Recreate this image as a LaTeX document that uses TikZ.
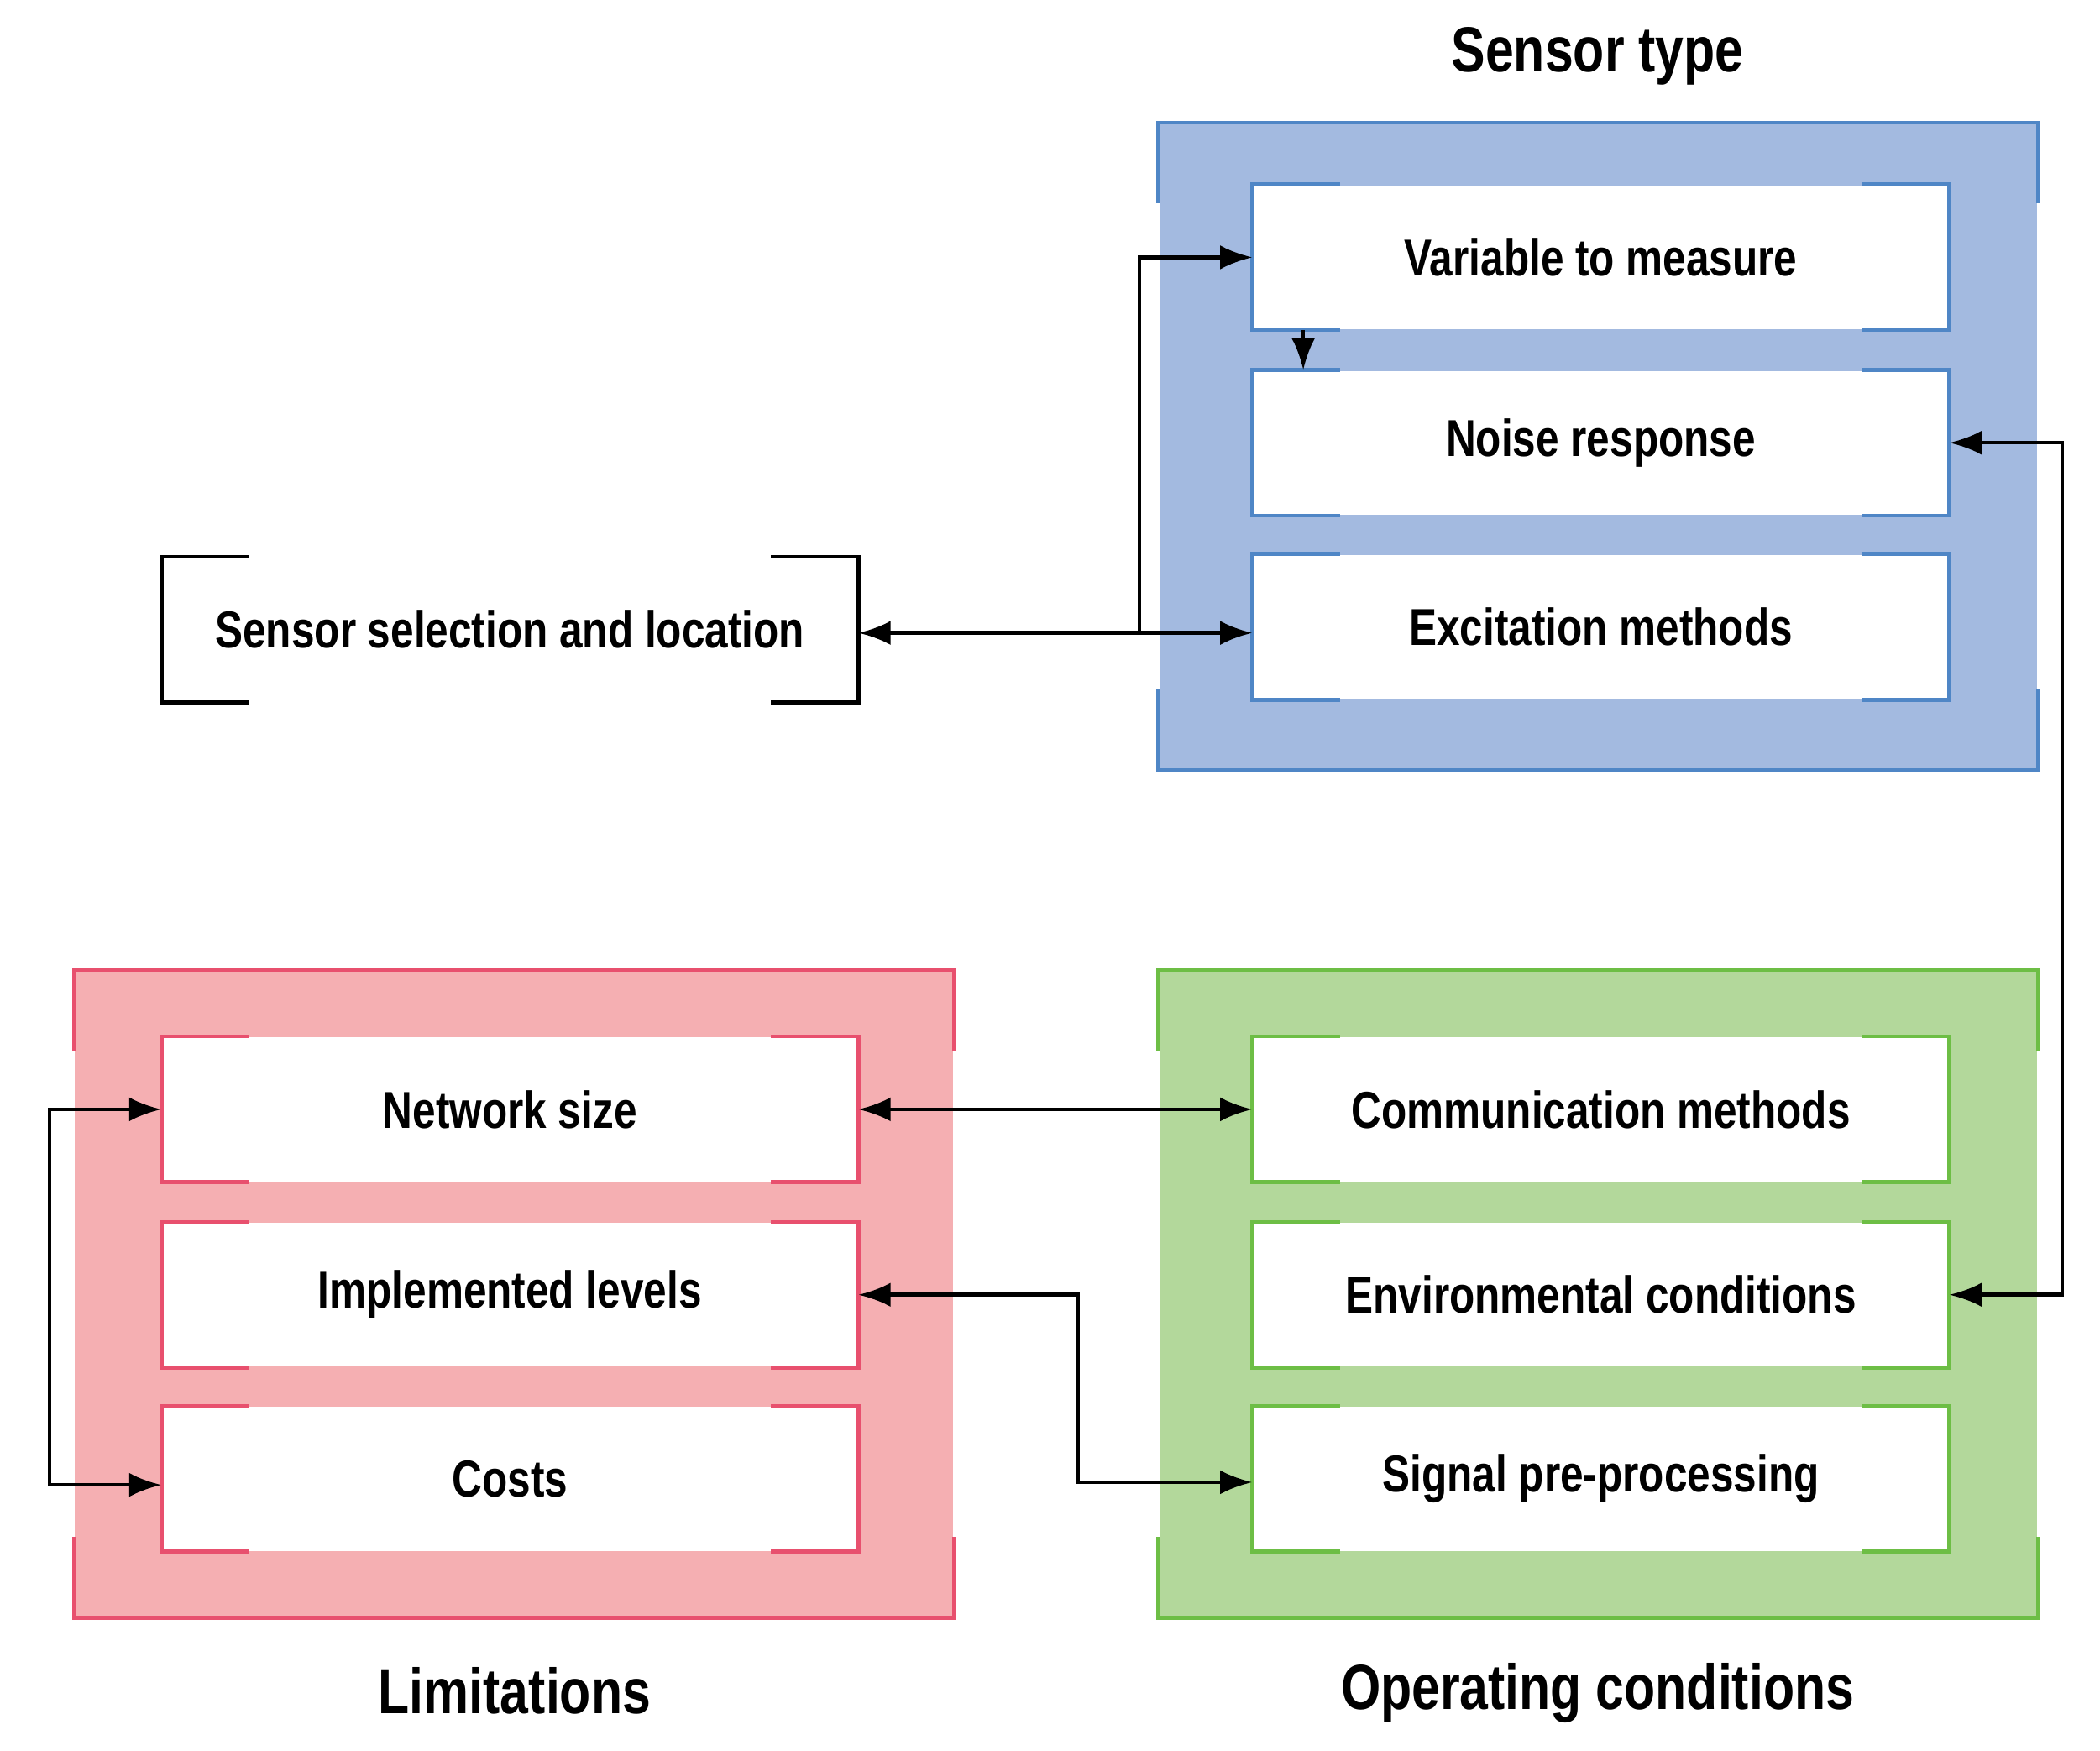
\documentclass[tikz,border=0pt]{standalone}
\usepackage{fontspec}
\setmainfont{Liberation Sans}[FakeStretch=0.8]
\usetikzlibrary{arrows.meta}
\definecolor{bfill}{HTML}{A3BAE0}\definecolor{bline}{HTML}{4F86C6}
\definecolor{rfill}{HTML}{F5AFB2}\definecolor{rline}{HTML}{E8506E}
\definecolor{gfill}{HTML}{B3D89B}\definecolor{gline}{HTML}{6DBE45}
\tikzset{
 ib/.style={rectangle,fill=white,minimum width=5.17cm,minimum height=1.07cm,inner sep=0pt,font=\bfseries\fontsize{11}{13}\selectfont},
 ob/.style={rectangle,minimum width=6.53cm,minimum height=4.8cm,inner sep=0pt},
 lw/.style={line width=0.8pt},
 ttl/.style={font=\bfseries\fontsize{13.5}{16}\selectfont},
 arr/.style={line width=0.8pt,-{Latex[length=2.4mm,width=1.8mm]}},
 darr/.style={line width=0.8pt,{Latex[length=2.4mm,width=1.8mm]}-{Latex[length=2.4mm,width=1.8mm]}}
}
\newcommand\inbox[4]{%
 \node[ib] (#1) at (#2) {#4};
 \draw[#3,lw] ([xshift=0.65cm]#1.north west) -- (#1.north west) -- (#1.south west) -- ([xshift=0.65cm]#1.south west);
 \draw[#3,lw] ([xshift=-0.65cm]#1.north east) -- (#1.north east) -- (#1.south east) -- ([xshift=-0.65cm]#1.south east);}
\newcommand\outbox[4]{%
 \node[ob,fill=#3] (#1) at (#2) {};
 \draw[#4,lw] ([yshift=-0.6cm]#1.north west) -- (#1.north west) -- (#1.north east) -- ([yshift=-0.6cm]#1.north east);
 \draw[#4,lw] ([yshift=0.6cm]#1.south west) -- (#1.south west) -- (#1.south east) -- ([yshift=0.6cm]#1.south east);}
\begin{document}
\begin{tikzpicture}[x=0.01cm,y=-0.01cm]
\useasboundingbox[fill=white] (0,0) rectangle (1563,1303);
\outbox{blue}{1189.5,332}{bfill}{bline}
\outbox{red}{382.5,963}{rfill}{rline}
\outbox{green}{1189.5,963}{gfill}{gline}
\inbox{var}{1191.5,191.5}{bline}{Variable to measure}
\inbox{noise}{1191.5,329.5}{bline}{Noise response}
\inbox{exc}{1191.5,466.5}{bline}{Excitation methods}
\inbox{sel}{379.5,468.5}{black}{Sensor selection and location}
\inbox{net}{379.5,825.5}{rline}{Network size}
\inbox{impl}{379.5,963.5}{rline}{Implemented levels}
\inbox{cost}{379.5,1100.5}{rline}{Costs}
\inbox{comm}{1191.5,825.5}{gline}{Communication methods}
\inbox{env}{1191.5,963.5}{gline}{Environmental conditions}
\inbox{sig}{1191.5,1100.5}{gline}{Signal pre-processing}
\node[ttl] (t1) at (1189,42) {Sensor type};
\node[ttl] (t2) at (383,1258) {Limitations};
\node[ttl] (t3) at (1189,1260) {Operating conditions};
\coordinate (j) at (848,471);
\draw[arr] (j) -- (sel.east|-j);
\draw[arr] (j) -- (exc.west|-j);
\draw[arr] (j) |- (var.west);
\draw[arr] (var.south-|970,0) -- (noise.north-|970,0);
\coordinate (r1) at (1535,329.5);
\coordinate (r2) at (1535,963.5);
\draw[darr] (noise.east) -- (r1) -- (r2) -- (env.east);
\draw[darr] (net.east) -- (comm.west);
\coordinate (m1) at (802,963.5);
\coordinate (m2) at (802,1103);
\draw[darr] (impl.east) -- (m1) -- (m2) -- (sig.west|-m2);
\coordinate (l1) at (37,825.5);
\coordinate (l2) at (37,1105);
\draw[darr] (net.west) -- (l1) -- (l2) -- (cost.west|-l2);
\end{tikzpicture}
\end{document}
